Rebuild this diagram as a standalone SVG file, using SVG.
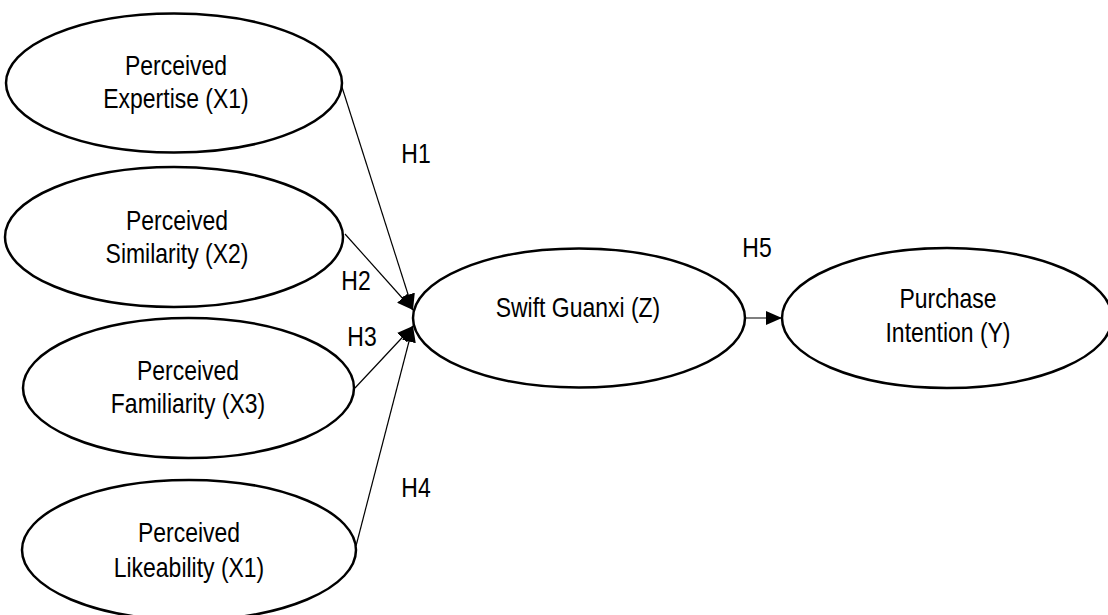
<svg xmlns="http://www.w3.org/2000/svg" width="1108" height="615" viewBox="0 0 1108 615">
<style>
.node ellipse{fill:#fff;stroke:#000;stroke-width:2.5}
.lbl{font-family:"Liberation Sans",Arial,sans-serif;font-size:28px;fill:#000;text-anchor:middle}
.edge{stroke:#000;stroke-width:1.2;fill:none}
</style>
<defs>
<marker id="arr" viewBox="0 0 16 14" refX="16" refY="7" markerWidth="16" markerHeight="14" markerUnits="userSpaceOnUse" orient="auto">
<path d="M0,0 L16,7 L0,14 Z" fill="#000"/>
</marker>
</defs>
<rect width="1108" height="615" fill="#fff"/>
<g id="connectors">
<line class="edge" x1="341" y1="84" x2="413" y2="310" marker-end="url(#arr)"/>
<line class="edge" x1="345" y1="234" x2="413" y2="310" marker-end="url(#arr)"/>
<line class="edge" x1="355" y1="388" x2="413" y2="326" marker-end="url(#arr)"/>
<line class="edge" x1="356" y1="546" x2="413" y2="326" marker-end="url(#arr)"/>
<line class="edge" x1="745" y1="318" x2="782" y2="318" marker-end="url(#arr)"/>
</g>
<g id="labels">
<text class="lbl" transform="translate(416,163) scale(0.82,1)">H1</text>
<text class="lbl" transform="translate(356,290) scale(0.82,1)">H2</text>
<text class="lbl" transform="translate(362,346) scale(0.82,1)">H3</text>
<text class="lbl" transform="translate(416,497) scale(0.82,1)">H4</text>
<text class="lbl" transform="translate(757,257) scale(0.82,1)">H5</text>
</g>
<g id="n_x1" class="node">
<ellipse cx="174" cy="83" rx="168" ry="69.5"/>
<text class="lbl" transform="translate(176,75) scale(0.82,1)">Perceived</text>
<text class="lbl" transform="translate(176,108) scale(0.82,1)">Expertise (X1)</text>
</g>
<g id="n_x2" class="node">
<ellipse cx="174" cy="237" rx="169" ry="70"/>
<text class="lbl" transform="translate(177,230) scale(0.82,1)">Perceived</text>
<text class="lbl" transform="translate(177,263) scale(0.82,1)">Similarity (X2)</text>
</g>
<g id="n_x3" class="node">
<ellipse cx="188.5" cy="388" rx="165.5" ry="70"/>
<text class="lbl" transform="translate(188,380) scale(0.82,1)">Perceived</text>
<text class="lbl" transform="translate(188,413) scale(0.82,1)">Familiarity (X3)</text>
</g>
<g id="n_x4" class="node">
<ellipse cx="189" cy="550" rx="167" ry="70"/>
<text class="lbl" transform="translate(189,542) scale(0.82,1)">Perceived</text>
<text class="lbl" transform="translate(189,577) scale(0.82,1)">Likeability (X1)</text>
</g>
<g id="n_z" class="node">
<ellipse cx="579" cy="318" rx="166" ry="69.5"/>
<text class="lbl" transform="translate(578,317) scale(0.82,1)">Swift Guanxi (Z)</text>
</g>
<g id="n_y" class="node">
<ellipse cx="947" cy="318" rx="165" ry="70"/>
<text class="lbl" transform="translate(948,308) scale(0.82,1)">Purchase</text>
<text class="lbl" transform="translate(948,342) scale(0.82,1)">Intention (Y)</text>
</g>
</svg>
